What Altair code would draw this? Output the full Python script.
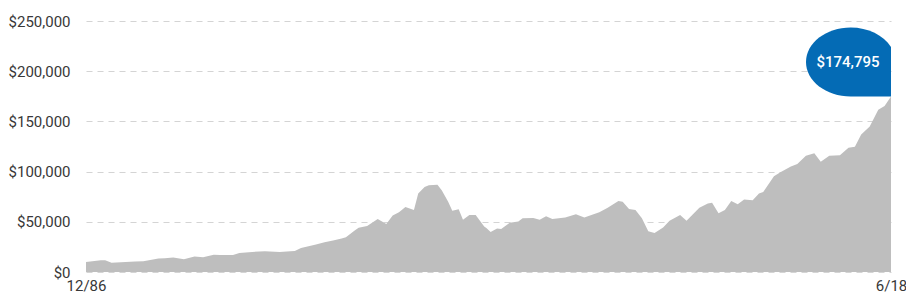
import altair as alt
import pandas as pd

# Growth of a hypothetical $10,000 investment, 12/86 - 6/18
months = [
    "1986-12", "1987-07", "1987-09", "1987-12", "1988-11", "1989-03", "1989-10", "1990-01",
    "1990-05", "1990-10", "1991-03", "1991-07", "1991-12", "1992-03", "1992-09", "1992-12",
    "1993-06", "1993-12", "1994-07", "1994-12", "1995-02", "1995-05", "1995-12", "1996-04",
    "1996-08", "1996-12", "1997-02", "1997-06", "1997-08", "1997-12", "1998-05", "1998-09",
    "1998-12", "1999-03", "1999-06", "1999-10", "1999-12", "2000-03", "2000-05", "2000-09",
    "2000-11", "2001-02", "2001-04", "2001-07", "2001-09", "2001-12", "2002-03", "2002-07",
    "2002-08", "2002-10", "2003-01", "2003-03", "2003-07", "2003-11", "2004-01", "2004-06",
    "2004-09", "2004-12", "2005-03", "2005-09", "2006-02", "2006-06", "2007-01", "2007-05",
    "2007-10", "2007-12", "2008-03", "2008-06", "2008-09", "2008-12", "2009-03", "2009-07",
    "2009-10", "2010-03", "2010-06", "2010-12", "2011-04", "2011-06", "2011-09", "2011-12",
    "2012-03", "2012-06", "2012-09", "2013-01", "2013-04", "2013-06", "2013-11", "2014-02",
    "2014-07", "2014-10", "2015-02", "2015-06", "2015-09", "2016-01", "2016-06", "2016-10",
    "2017-01", "2017-04", "2017-08", "2017-12", "2018-03", "2018-06",
]
values = [
    10000, 11800, 11800, 9100, 10500, 10800, 13400, 13700,
    14400, 12700, 15400, 14700, 17300, 17000, 17000, 19000,
    20000, 20600, 20000, 20600, 21000, 23800, 27500, 29700,
    31400, 33300, 34600, 41000, 44000, 45800, 52900, 47700,
    56200, 59500, 64700, 61800, 78100, 84600, 86300, 87000,
    81400, 69900, 61000, 62400, 52000, 56800, 56800, 45400,
    43800, 39900, 43400, 42800, 49000, 50300, 53600, 53900,
    52000, 55600, 52900, 54200, 57500, 54200, 59500, 64000,
    70600, 69900, 62700, 61800, 53600, 40500, 38900, 44400,
    51000, 56800, 51000, 64000, 68300, 69000, 58500, 61800,
    70600, 67600, 72300, 71500, 78100, 79700, 95400, 99300,
    105200, 107500, 115700, 118300, 109800, 115700, 116400, 123800,
    124800, 137000, 145000, 161500, 165400, 174795,
]
y_ticks = [0, 50000, 100000, 150000, 200000, 250000]

FONT = "Roboto, sans-serif"
TEXT = "#383838"
AREA = "#bebebe"
BLUE = "#046bb5"
# badge: ellipse with a square bottom-right corner, anchored at the last point (pixel units, size=4)
BADGE = ("M 0 0 L 0 -49.4 A 44.7 34.5 0 0 0 -40.3 -69 "
         "A 44.7 34.5 0 0 0 -85 -34.5 A 44.7 34.5 0 0 0 -40.3 0 Z")

df = pd.DataFrame({"date": [m + "-01T00:00:00Z" for m in months], "value": values})
last = df.tail(1)

start = alt.DateTime(year=1986, month=12, date=1, utc=True)
end = alt.DateTime(year=2018, month=6, date=1, utc=True)
x_scale = alt.Scale(type="utc", domain=[start, end])
y_scale = alt.Scale(domain=[0, 250000], nice=False)

x_axis = alt.Axis(
    values=[start, end],
    labelExpr="utcFormat(datum.value, '%-m/%y')",
    title=None, grid=False, domain=False, ticks=False,
    tickSize=0, labelPadding=6, labelFontSize=15, labelFlush=False, labelColor=TEXT,
    labelFont=FONT, labelOverlap=False,
)
y_axis = alt.Axis(
    values=y_ticks, format="$,.0f", title=None, domain=False, ticks=False, tickSize=0,
    labelPadding=16, labelFontSize=15, labelColor=TEXT, labelFont=FONT,
    grid=True, gridColor="#d4d4d4", gridDash=[6, 5], gridWidth=1.2,
)

area = alt.Chart(df).mark_area(color=AREA, opacity=1, interpolate="linear").encode(
    x=alt.X("date:T", scale=x_scale, axis=x_axis),
    y=alt.Y("value:Q", scale=y_scale, axis=y_axis),
)

badge = alt.Chart(last).mark_point(
    shape=BADGE, size=4, filled=True, fill=BLUE, opacity=1, strokeWidth=0
).encode(
    x=alt.X("date:T", scale=x_scale),
    y=alt.Y("value:Q", scale=y_scale),
)

label = alt.Chart(last).mark_text(
    color="white", font=FONT, fontSize=15, fontWeight=500, dx=-43, dy=-35,
    align="center", baseline="middle"
).encode(
    x=alt.X("date:T", scale=x_scale),
    y=alt.Y("value:Q", scale=y_scale),
    text=alt.Text("value:Q", format="$,.0f"),
)

chart = alt.layer(area, badge, label).properties(
    width=805, height=251,
    background="white",
    autosize=alt.AutoSizeParams(type="none"),
    padding={"left": 78, "top": 13, "right": 15, "bottom": 25},
).configure_view(stroke="transparent", strokeWidth=0)

chart.save("out.html", embed_options={"renderer": "svg", "actions": False})
